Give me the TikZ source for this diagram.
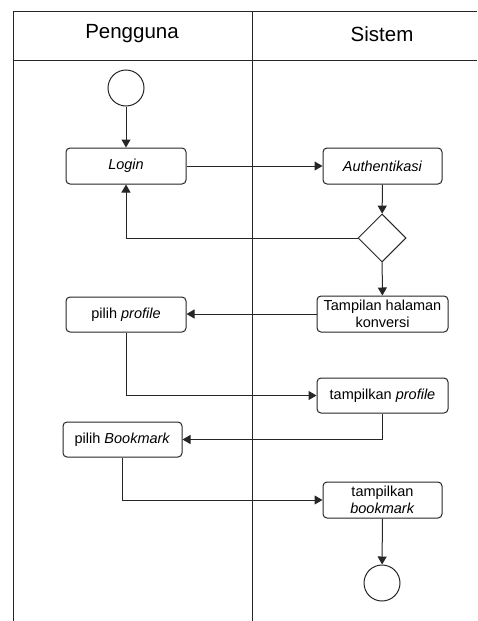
\documentclass[tikz,border=0pt]{standalone}
\usepackage{fontspec}
\setmainfont{Liberation Sans}
\usetikzlibrary{shapes.geometric,arrows.meta}
\begin{document}
\begin{tikzpicture}[x=1pt,y=-1pt,
  lane/.style={draw=black!85,line width=1pt},
  act/.style={draw=black!85,line width=1pt,rounded corners=4pt,fill=white,align=center,font=\fontsize{14.5}{17.5}\selectfont,inner sep=0pt},
  term/.style={draw=black!85,line width=1pt,circle,minimum size=36pt,inner sep=0pt},
  dec/.style={draw=black!85,line width=1pt,diamond,minimum width=48pt,minimum height=48pt,inner sep=0pt},
  flow/.style={draw=black!85,line width=1pt,-{Triangle[length=8pt,width=9pt]}},
  head/.style={font=\fontsize{20.5}{24}\selectfont}]
\useasboundingbox (0,0) rectangle (477,621);
% swimlanes
\draw[lane] (477,11) -- (13,11) -- (13,621);
\draw[lane] (13,60) -- (477,60);
\draw[lane] (252,11) -- (252,621);
\node[head] (hp) at (132,34) {Pengguna};
\node[head] (hs) at (382,34) {Sistem};
% nodes
\node[term] (start) at (126,88) {};
\node[act,minimum width=120pt,minimum height=36pt] (login) at (126,166) {\textit{Login}};
\node[act,minimum width=119pt,minimum height=36pt] (auth) at (382.5,166) {\textit{Authentikasi}};
\node[dec] (d) at (382,238) {};
\node[act,minimum width=131pt,minimum height=36pt] (tampil) at (382.5,314) {Tampilan halaman\\konversi};
\node[act,minimum width=120pt,minimum height=35pt] (pprof) at (126,314.5) {pilih \textit{profile}};
\node[act,minimum width=131pt,minimum height=35pt] (tprof) at (382.5,395.5) {tampilkan \textit{profile}};
\node[act,minimum width=119pt,minimum height=35pt] (pbook) at (122.5,439.5) {pilih \textit{Bookmark}};
\node[act,minimum width=119pt,minimum height=36pt] (tbook) at (382.5,500) {tampilkan\\\textit{bookmark}};
\node[term] (end) at (382,583) {};
% connectors
\draw[flow] (start) -- (login);
\draw[flow] (login) -- (auth);
\draw[flow] (auth) -- (d);
\draw[flow] (d.west) -| (login.south);
\draw[flow] (d) -- (tampil);
\draw[flow] (tampil.west) -- (pprof.east |- tampil.west);
\draw[flow] (pprof.south) |- (tprof.west);
\draw[flow] (tprof.south) |- (pbook.east);
\draw[flow] (pbook.south) |- (tbook.west);
\draw[flow] (tbook) -- (end);
\end{tikzpicture}
\end{document}
